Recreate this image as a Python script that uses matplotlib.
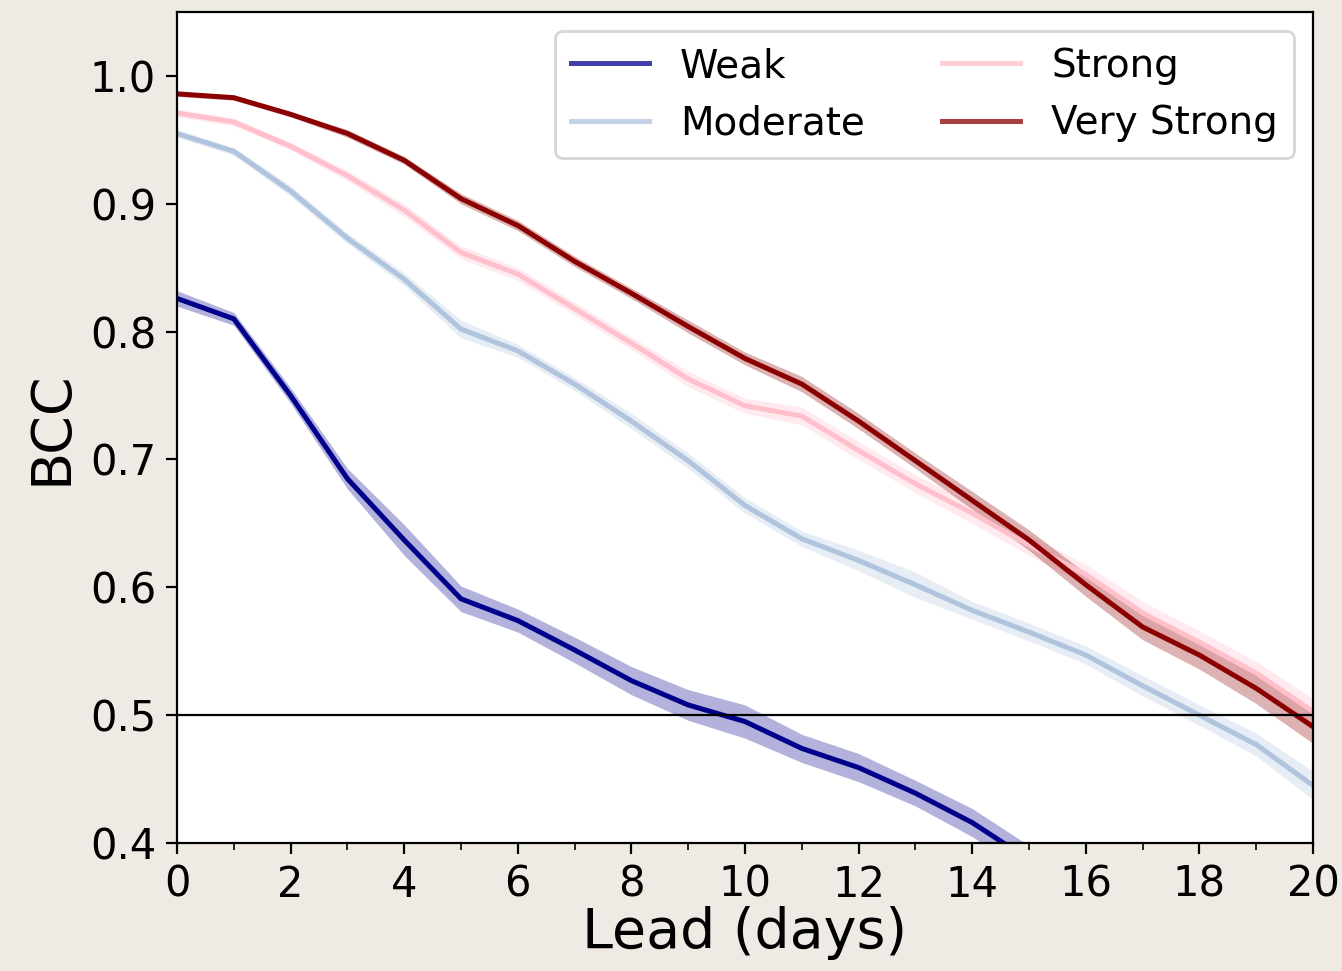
import numpy as np
import matplotlib.pyplot as plt

lead = np.arange(0, 21)

weak = [0.826, 0.810, 0.750, 0.685, 0.637, 0.591, 0.574, 0.551, 0.527, 0.508,
        0.495, 0.474, 0.459, 0.439, 0.416, 0.387, 0.360, 0.335, 0.310, 0.285, 0.260]
weak_err = [0.006, 0.005, 0.006, 0.008, 0.012, 0.010, 0.009, 0.010, 0.011, 0.012,
            0.013, 0.011, 0.011, 0.010, 0.011, 0.011, 0.011, 0.011, 0.011, 0.011, 0.011]

moderate = [0.955, 0.941, 0.910, 0.873, 0.841, 0.802, 0.785, 0.759, 0.730, 0.699,
            0.664, 0.638, 0.621, 0.602, 0.582, 0.565, 0.547, 0.523, 0.500, 0.477, 0.445]
moderate_err = [0.003, 0.003, 0.004, 0.004, 0.005, 0.007, 0.005, 0.005, 0.006, 0.006,
                0.006, 0.006, 0.008, 0.010, 0.007, 0.007, 0.007, 0.008, 0.008, 0.009, 0.011]

strong = [0.971, 0.964, 0.945, 0.922, 0.895, 0.862, 0.845, 0.818, 0.791, 0.763,
          0.742, 0.734, 0.707, 0.681, 0.658, 0.633, 0.610, 0.580, 0.557, 0.533, 0.503]
strong_err = [0.003, 0.003, 0.003, 0.004, 0.005, 0.005, 0.005, 0.005, 0.005, 0.006,
              0.006, 0.007, 0.007, 0.007, 0.008, 0.008, 0.008, 0.009, 0.009, 0.009, 0.010]

very_strong = [0.986, 0.983, 0.970, 0.955, 0.934, 0.904, 0.883, 0.855, 0.830, 0.804,
               0.779, 0.759, 0.730, 0.699, 0.668, 0.637, 0.602, 0.569, 0.547, 0.521, 0.491]
very_strong_err = [0.002, 0.002, 0.002, 0.003, 0.003, 0.004, 0.004, 0.004, 0.004, 0.005,
                   0.005, 0.006, 0.006, 0.006, 0.007, 0.008, 0.009, 0.010, 0.011, 0.012, 0.013]

series = [
    ("Weak", weak, weak_err, "darkblue"),
    ("Moderate", moderate, moderate_err, "lightsteelblue"),
    ("Strong", strong, strong_err, "pink"),
    ("Very Strong", very_strong, very_strong_err, "darkred"),
]

fig = plt.figure(figsize=(6.71, 4.855), dpi=200, facecolor="#efebe4")
ax = fig.add_axes([0.1319, 0.1318, 0.8465, 0.8558])
ax.set_facecolor("white")

for name, vals, err, col in series:
    vals = np.array(vals)
    err = np.array(err)
    ax.fill_between(lead, vals - err, vals + err, color=col, alpha=0.3, lw=0)
    ax.plot(lead, vals, color=col, lw=1.8, label=name)

ax.axhline(0.5, color="black", lw=0.8)

ax.set_xlim(0, 20)
ax.set_ylim(0.4, 1.05)
ax.set_xticks(np.arange(0, 21, 2))
ax.set_xticks(np.arange(0, 21, 1), minor=True)
ax.set_yticks([0.4, 0.5, 0.6, 0.7, 0.8, 0.9, 1.0])
ax.tick_params(labelsize=15, length=4)
ax.tick_params(which="minor", length=2.5)
ax.set_xlabel("Lead (days)", fontsize=20, labelpad=0)
ax.set_ylabel("BCC", fontsize=20, labelpad=4)

leg = ax.legend(ncol=2, loc="upper right", fontsize=14, framealpha=0.8,
                borderaxespad=0.5)
for h in leg.get_lines():
    h.set_alpha(0.75)

fig.savefig("out.png", dpi=200, facecolor=fig.get_facecolor())
